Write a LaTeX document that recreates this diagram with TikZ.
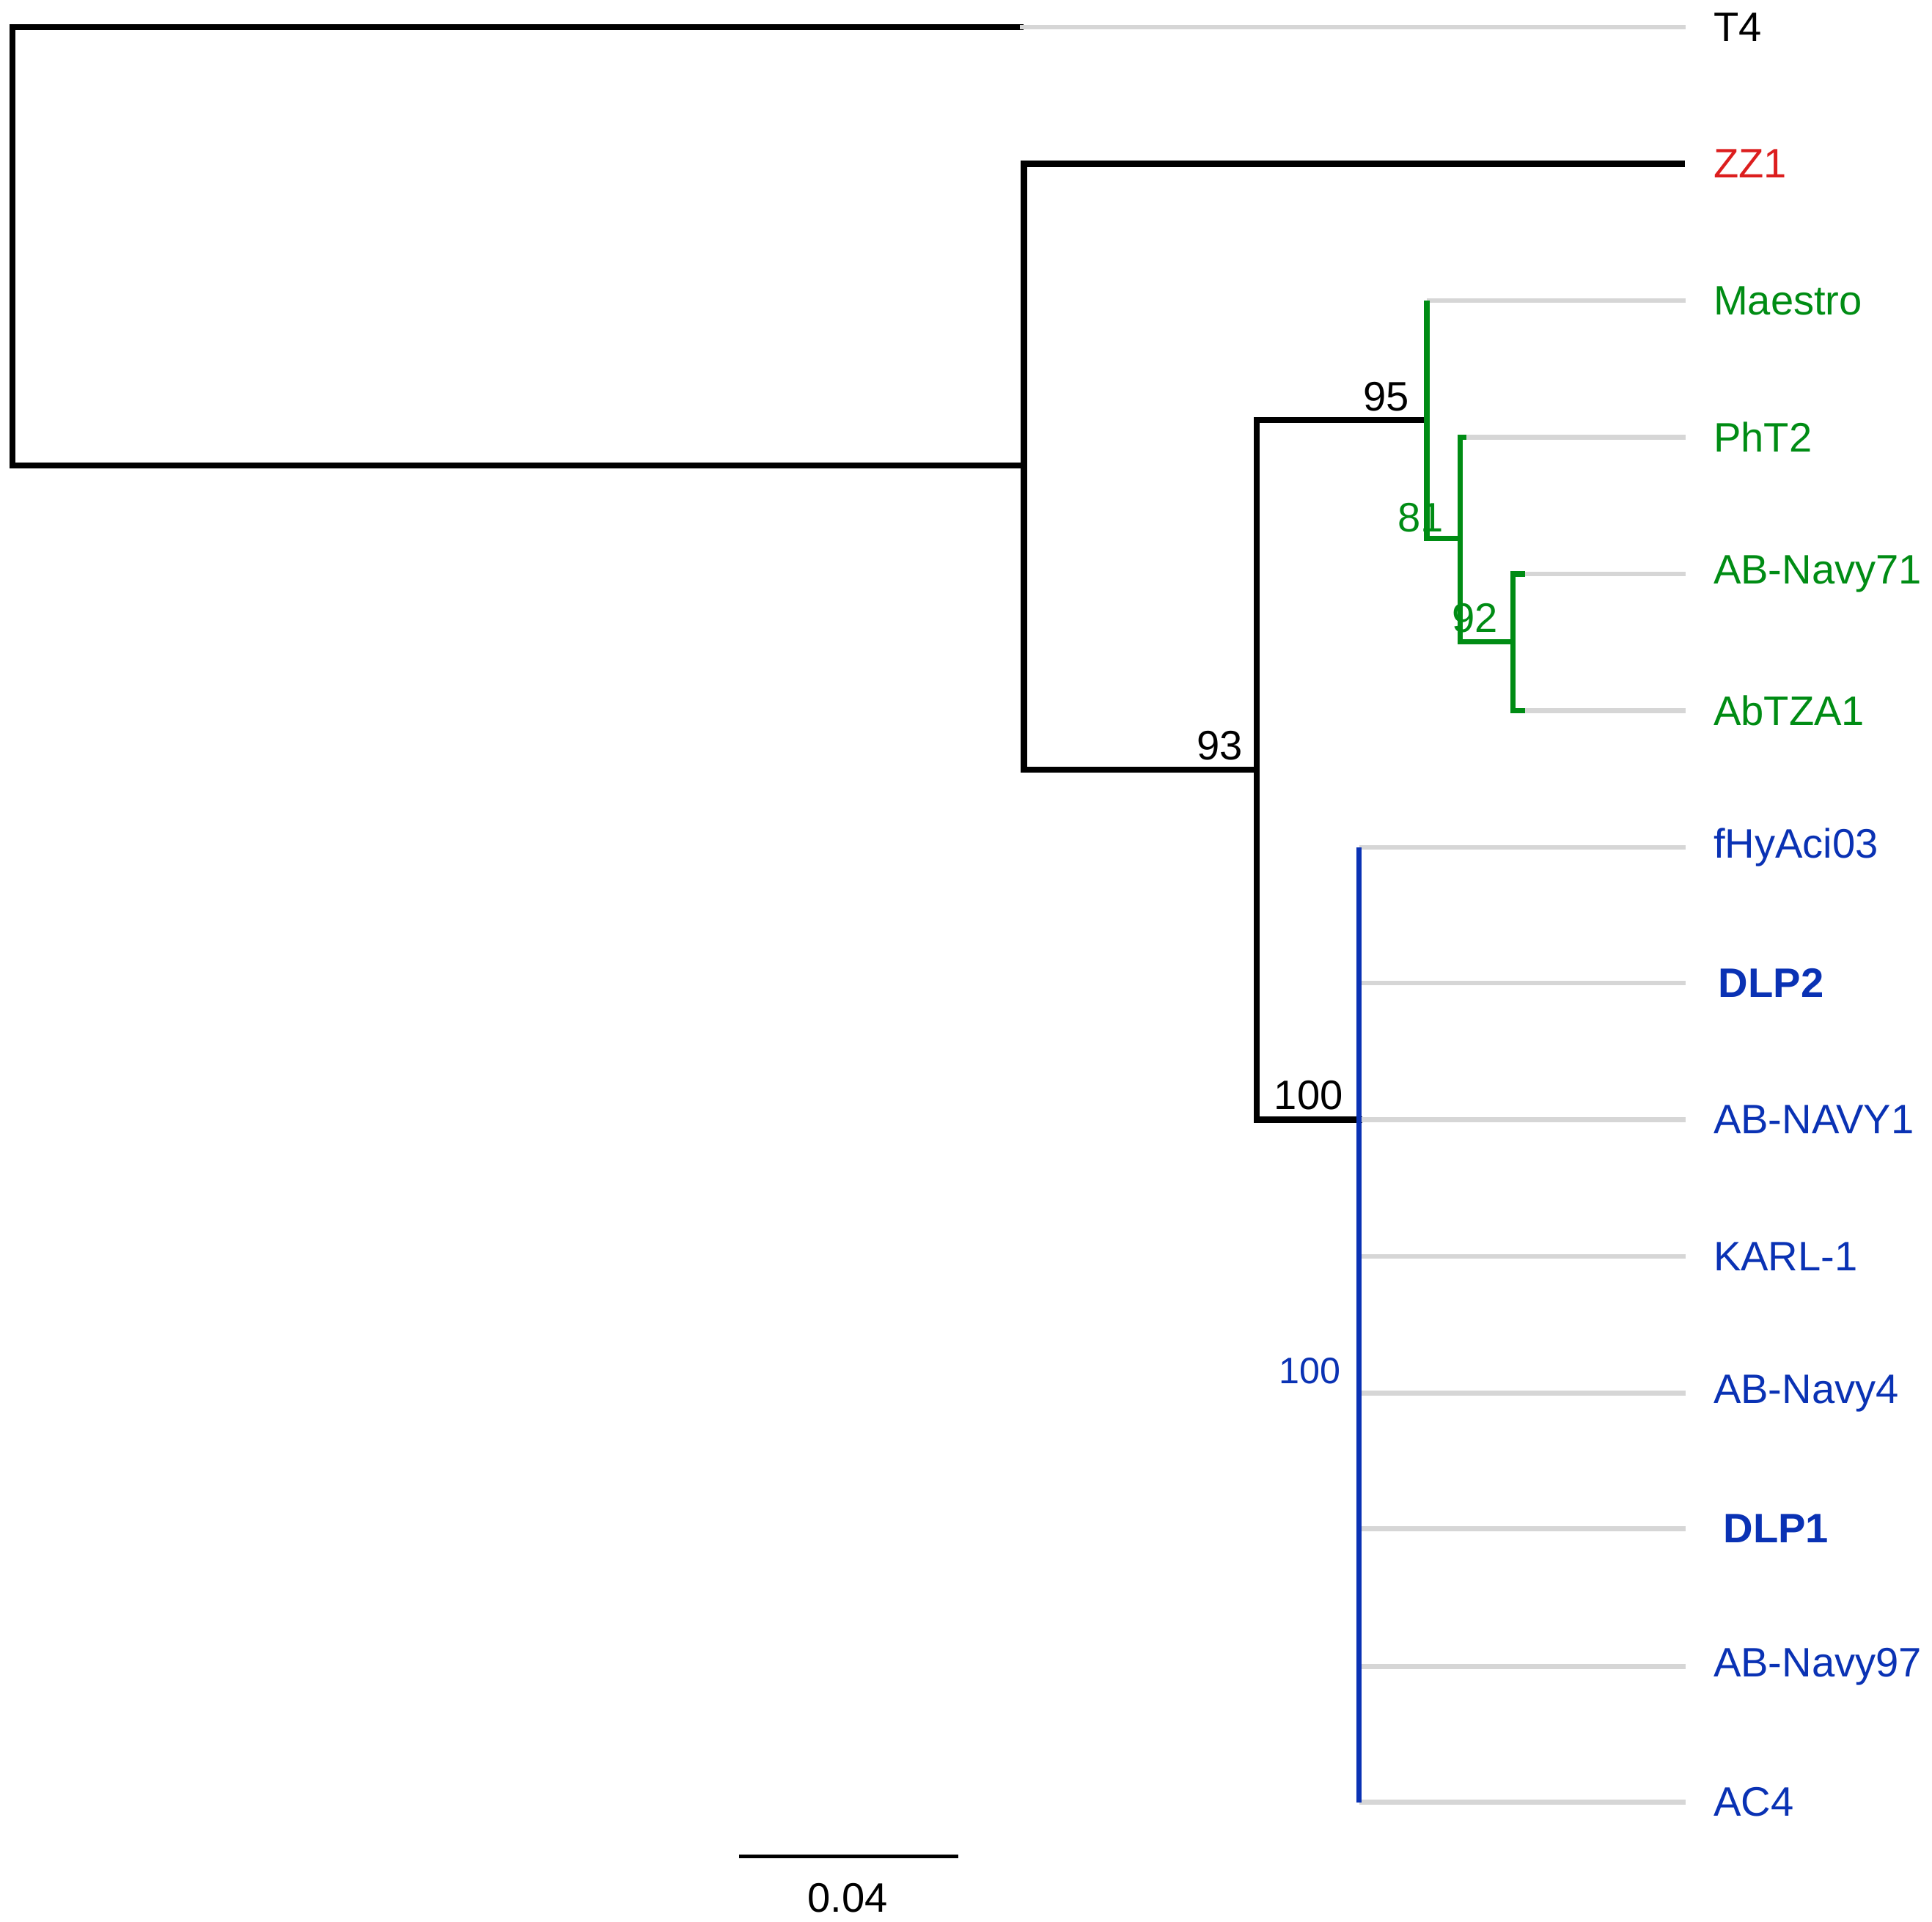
\documentclass[tikz,border=0pt]{standalone}
\usepackage{fontspec}
\setmainfont{Liberation Sans}
\begin{document}
\begin{tikzpicture}[x=0.01cm,y=-0.01cm,
 br/.style={line width=1.4pt,line cap=rect},
 leaf/.style={line width=1.1pt,color=black!16},
 lab/.style={anchor=west,font=\fontsize{9.5}{11}\selectfont,inner sep=0pt},
 sup/.style={font=\fontsize{9.5}{11}\selectfont,inner sep=0pt}]
\definecolor{tg}{RGB}{0,140,20}
\definecolor{tb}{RGB}{10,50,180}
\definecolor{tr}{RGB}{220,30,30}
\useasboundingbox (0,0) rectangle (1568,1560);
% black tree
\draw[br] (828,22) -- (10,22) -- (10,378) -- (831,378);
\draw[br] (1365,133) -- (831,133) -- (831,625) -- (1020,625);
\draw[br] (1158,341) -- (1020,341) -- (1020,909) -- (1103,909);
% grey leaves
\foreach \a/\b/\y in {828/1368/22,1158/1368/244,1188/1368/355,1238/1368/466,1238/1368/577}
 \draw[leaf] (\a,\y) -- (\b,\y);
\foreach \y in {688,798,909,1020,1131,1241,1353,1463}
 \draw[leaf] (1103,\y) -- (1368,\y);
% green clade
\draw[line width=1.3pt,tg] (1158,244) -- (1158,437) -- (1185,437);
\draw[line width=1.3pt,tg] (1190,355) -- (1185,355) -- (1185,521) -- (1228,521);
\draw[line width=1.3pt,tg] (1238,466) -- (1228,466) -- (1228,577) -- (1238,577);
% blue clade
\draw[line width=1.3pt,tb] (1103,688) -- (1103,1463);
% labels
\node[lab] (t1) at (1390,22) {T4};
\node[lab,tr] (t2) at (1390,133) {ZZ1};
\node[lab,tg] (t3) at (1390,244) {Maestro};
\node[lab,tg] (t4) at (1390,355) {PhT2};
\node[lab,tg] (t5) at (1390,466) {AB-Navy71};
\node[lab,tg] (t6) at (1390,577) {AbTZA1};
\node[lab,tb] (t7) at (1390,688) {fHyAci03};
\node[lab,tb,font=\fontsize{9.5}{11}\selectfont\bfseries] (t8) at (1394,798) {DLP2};
\node[lab,tb] (t9) at (1390,909) {AB-NAVY1};
\node[lab,tb] (t10) at (1390,1020) {KARL-1};
\node[lab,tb] (t11) at (1390,1131) {AB-Navy4};
\node[lab,tb,font=\fontsize{9.5}{11}\selectfont\bfseries] (t12) at (1398,1241) {DLP1};
\node[lab,tb] (t13) at (1390,1353) {AB-Navy97};
\node[lab,tb] (t14) at (1390,1463) {AC4};
% support values
\node[sup] (s95) at (1125,322) {95};
\node[sup] (s93) at (990,605) {93};
\node[sup] (s100) at (1062,889) {100};
\node[sup,tg] (s81) at (1153,420) {81};
\node[sup,tg] (s92) at (1197,502) {92};
\node[sup,tb,font=\fontsize{8.5}{10}\selectfont] (s100b) at (1063,1113) {100};
% scale bar
\coordinate (sa) at (600,1507);
\coordinate (sb) at (778,1507);
\draw[line width=0.9pt] (sa) -- (sb);
\node[sup] (sc) at (688,1541) {0.04};
\end{tikzpicture}
\end{document}
